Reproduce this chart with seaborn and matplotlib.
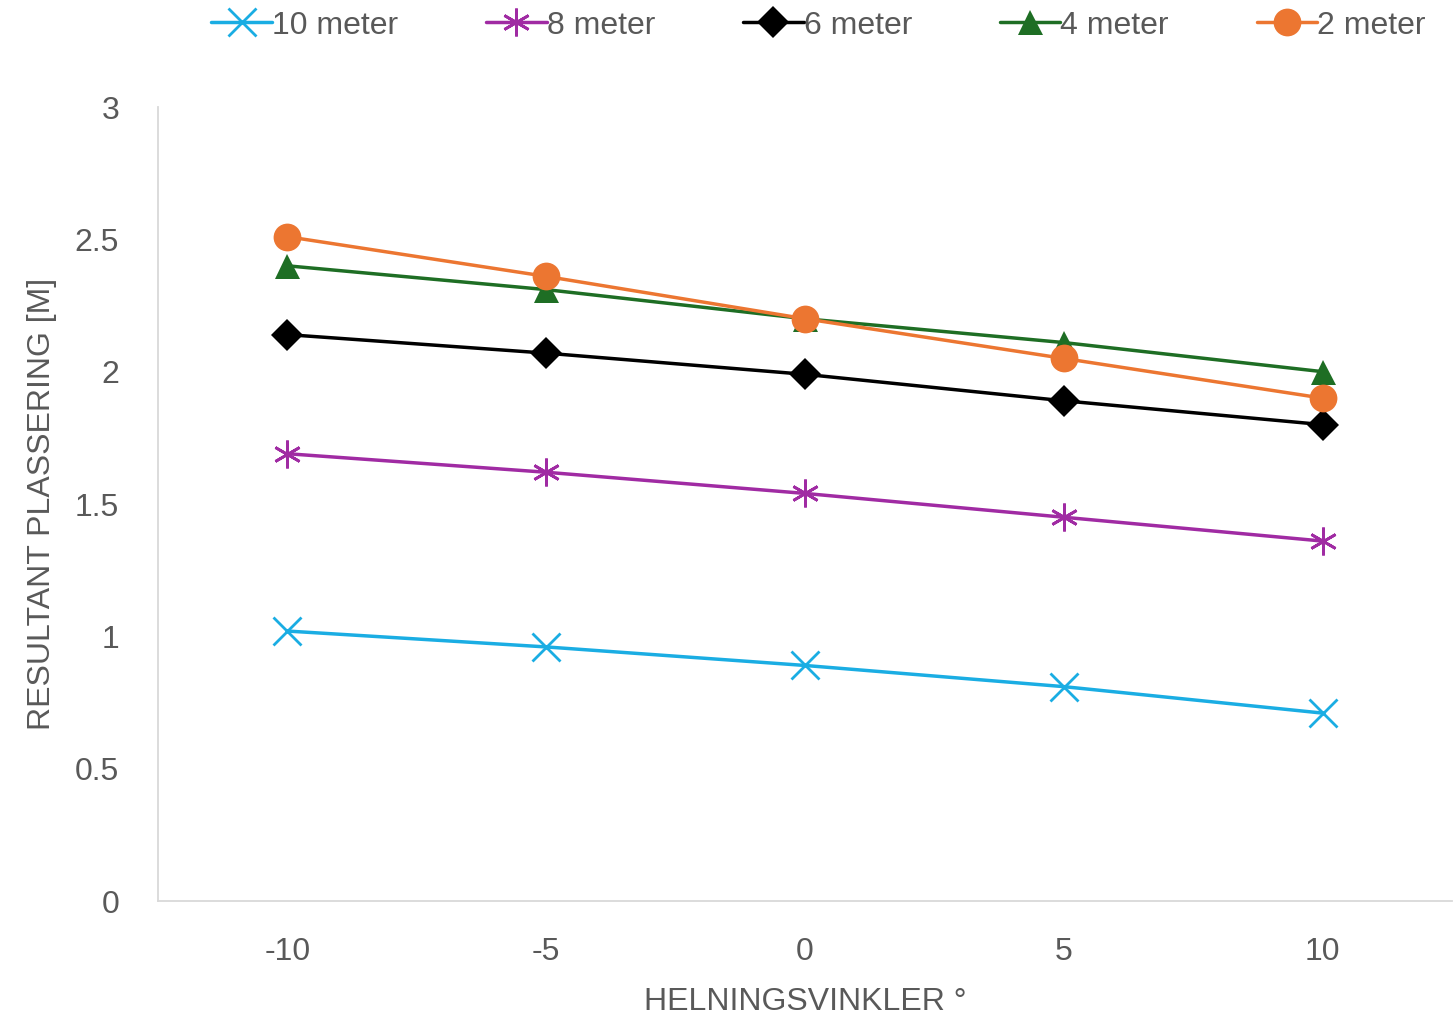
import matplotlib
matplotlib.use('Agg')
import matplotlib.pyplot as plt
import seaborn as sns
import pandas as pd

# data
angles = [-10, -5, 0, 5, 10]
labels = ['10 meter', '8 meter', '6 meter', '4 meter', '2 meter']
m10 = [1.02, 0.96, 0.89, 0.81, 0.71]
m8 = [1.69, 1.62, 1.54, 1.45, 1.36]
m6 = [2.14, 2.07, 1.99, 1.89, 1.80]
m4 = [2.40, 2.31, 2.20, 2.11, 2.00]
m2 = [2.51, 2.36, 2.20, 2.05, 1.90]

colors = ['#1AADE3', '#A02BA3', '#000000', '#1E6E24', '#EC7631']
markers = ['x', (6, 2, 0), 'D', '^', 'o']
sizes = [20, 20, 16, 18, 20]

sns.set_style('white')
plt.rcParams['font.family'] = ['Liberation Sans', 'DejaVu Sans']
plt.rcParams['axes.unicode_minus'] = False

fig = plt.figure(figsize=(14.54, 10.24), dpi=100)
ax = fig.add_axes([0.1087, 0.1201, 0.8899, 0.7754])

for lab, vals, c, mk, ms in zip(labels, [m10, m8, m6, m4, m2], colors, markers, sizes):
    df = pd.DataFrame({'x': angles, 'y': vals})
    thin = mk == 'x' or isinstance(mk, tuple)
    sns.lineplot(data=df, x='x', y='y', ax=ax, color=c, marker=mk, markersize=ms,
                 linewidth=2.5, markeredgewidth=2 if thin else 0,
                 markeredgecolor=c, label=lab)

ax.set_xlim(-12.5, 12.5)
ax.set_ylim(0, 3)
ax.set_xticks(angles)
ax.set_yticks([0, 0.5, 1, 1.5, 2, 2.5, 3])
ax.set_yticklabels(['0', '0.5', '1', '1.5', '2', '2.5', '3'])
ax.tick_params(axis='both', length=0, labelsize=23, colors='#595959')
ax.tick_params(axis='y', pad=28)
ax.tick_params(axis='x', pad=26)

for s in ['top', 'right']:
    ax.spines[s].set_visible(False)
for s in ['left', 'bottom']:
    ax.spines[s].set_color('#D9D9D9')
    ax.spines[s].set_linewidth(1.3)

ax.set_xlabel('HELNINGSVINKLER °', fontsize=23, color='#595959', labelpad=14)
ax.set_ylabel('RESULTANT PLASSERING [M]', fontsize=23, color='#595959', labelpad=13)

ax.legend(loc='center', bbox_to_anchor=(0.563, 0.975), bbox_transform=fig.transFigure,
          ncol=5, frameon=False, fontsize=23,
          handlelength=1.9, handletextpad=0.0, columnspacing=2.75)
for t in ax.get_legend().get_texts():
    t.set_color('#595959')

fig.savefig('out.png', dpi=100)
